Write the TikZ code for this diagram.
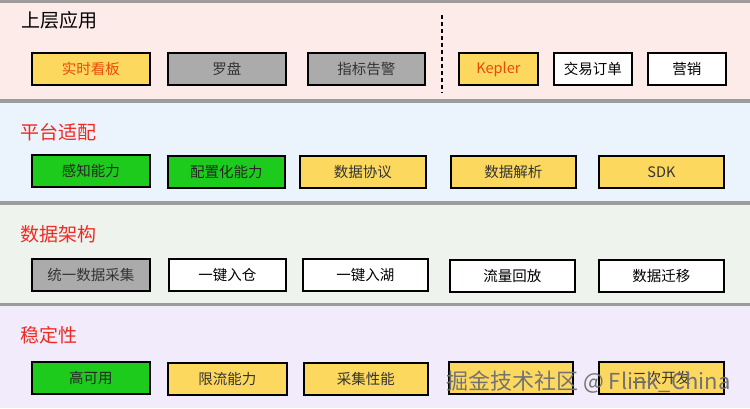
\documentclass[tikz,border=0pt]{standalone}
\usepackage{fontspec}
\setmainfont{Noto Sans CJK SC}
\newfontfamily\cjk{Noto Sans CJK SC}
\definecolor{bandA}{HTML}{FDEBEA}
\definecolor{bandB}{HTML}{EBF3FC}
\definecolor{bandC}{HTML}{EEF3EE}
\definecolor{bandD}{HTML}{F1EBFB}
\definecolor{sep}{HTML}{9C9C9C}
\definecolor{yel}{HTML}{FDD85E}
\definecolor{gry}{HTML}{ABABAB}
\definecolor{grn}{HTML}{1CCB1C}
\definecolor{redt}{HTML}{EE2A24}
\definecolor{orgt}{HTML}{E84A0C}
\tikzset{
  box/.style={draw=black, line width=1.8pt, minimum height=32pt, inner sep=0pt, font=\cjk\fontsize{14.5}{16}\selectfont, anchor=north west},
  ybox/.style={box, fill=yel, text=black!80},
  gbox/.style={box, fill=gry, text=black!80},
  grbox/.style={box, fill=grn, text=black!85},
  wbox/.style={box, fill=white, text=black},
  ttl/.style={font=\cjk\fontsize{19}{22}\selectfont, anchor=west, text=redt},
  wmk/.style={font=\cjk\fontsize{22}{24}\selectfont, anchor=west, inner sep=0pt},
}
\begin{document}
\begin{tikzpicture}[x=1pt,y=-1pt]
\useasboundingbox (0,0) rectangle (750,408);
% bands
\fill[bandA] (0,0) rectangle (750,100);
\fill[bandB] (0,100) rectangle (750,203);
\fill[bandC] (0,203) rectangle (750,304);
\fill[bandD] (0,304) rectangle (750,408);
\draw[sep, line width=3pt] (0,1.5) -- (750,1.5);
\draw[sep, line width=3.5pt] (0,101) -- (750,101);
\draw[sep, line width=3.5pt] (0,203) -- (750,203);
\draw[sep, line width=3.5pt] (0,304.5) -- (750,304.5);
% titles
\node[ttl, text=black] (t1) at (18,20) {上层应用};
\node[ttl] (t2) at (17,132) {平台适配};
\node[ttl] (t3) at (17,234) {数据架构};
\node[ttl] (t4) at (17,335) {稳定性};
% row 1
\node[ybox, minimum width=118pt, text=orgt] (a1) at (31,52) {实时看板};
\node[gbox, minimum width=118pt] (a2) at (167,52) {罗盘};
\node[gbox, minimum width=117pt] (a3) at (307,52) {指标告警};
\coordinate (d1) at (442,15);
\coordinate (d2) at (442,93);
\draw[black, line width=1.8pt, dash pattern=on 4pt off 3pt] (d1) -- (d2);
\node[ybox, minimum width=79pt, text=orgt] (a4) at (458,52) {Kepler};
\node[wbox, minimum width=78pt] (a5) at (553,52) {交易订单};
\node[wbox, minimum width=78pt] (a6) at (647,52) {营销};
% row 2
\node[grbox, minimum width=118pt] (b1) at (31,154) {感知能力};
\node[grbox, minimum width=117pt] (b2) at (167,155) {配置化能力};
\node[ybox, minimum width=126pt] (b3) at (299,155) {数据协议};
\node[ybox, minimum width=125pt] (b4) at (450,155) {数据解析};
\node[ybox, minimum width=125pt] (b5) at (598,155) {SDK};
% row 3
\node[gbox, minimum width=118pt] (c1) at (31,258) {统一数据采集};
\node[wbox, minimum width=117pt] (c2) at (168,258) {一键入仓};
\node[wbox, minimum width=125pt] (c3) at (302,258) {一键入湖};
\node[wbox, minimum width=125pt] (c4) at (449,259) {流量回放};
\node[wbox, minimum width=125pt] (c5) at (598,259) {数据迁移};
% row 4
\node[grbox, minimum width=118pt] (e1) at (31,361) {高可用};
\node[ybox, minimum width=119pt] (e2) at (167,362) {限流能力};
\node[ybox, minimum width=124pt] (e3) at (303,362) {采集性能};
\node[ybox, minimum width=124pt] (e4) at (448,361) {};
\node[ybox, minimum width=125pt] (e5) at (598,361) {二次开发};
% watermark
\node[wmk, text=black!55] (wm) at (446,382) {掘金技术社区 @ Flink\_China};
\end{tikzpicture}
\end{document}
